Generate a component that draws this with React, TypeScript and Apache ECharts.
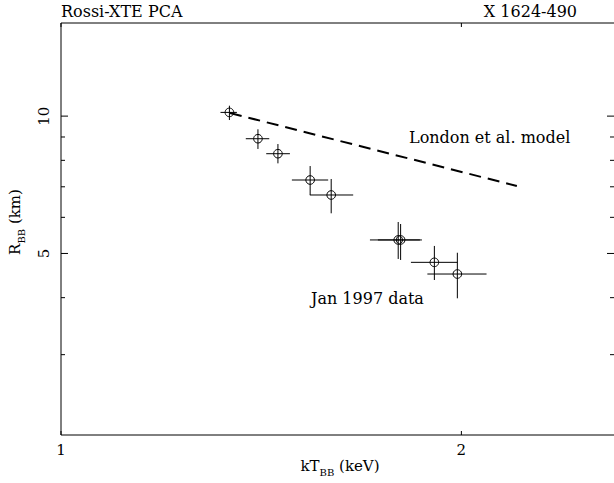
import React, { useEffect, useRef } from "react";
import * as echarts from "echarts";

// Axis ticks
const xTickValues = [1, 2];
const xTickLabels = ["1", "2"];
const yMajorTicks = [5, 10];
const yMinorTicks = [3, 4, 6, 7, 8, 9];
const yTickLabels = ["5", "10"];

// Jan 1997 data (kT_BB in keV, R_BB in km)
const kT = [1.3385, 1.4063, 1.4558, 1.5393, 1.5964, 1.7928, 1.8003, 1.9086, 1.9861];
const kTLow = [1.318, 1.377, 1.4266, 1.4914, 1.5385, 1.7072, 1.7309, 1.8327, 1.8856];
const kTHigh = [1.356, 1.4341, 1.4863, 1.5881, 1.6584, 1.8614, 1.8679, 1.9861, 2.0891];
const radius = [10.19, 8.922, 8.272, 7.244, 6.716, 5.353, 5.353, 4.781, 4.507];
const radiusLow = [9.805, 8.472, 7.879, 6.716, 6.123, 4.863, 4.838, 4.373, 3.987];
const radiusHigh = [10.54, 9.356, 8.686, 7.773, 7.281, 5.86, 5.801, 5.193, 5.018];

// London et al. model
const modelKT = [1.3398, 2.2016];
const modelR = [10.16, 7.028];

const FONT = "DejaVu Serif";
const FS = 16;

export default function App() {
  const ref = useRef<HTMLDivElement>(null);
  useEffect(() => {
    if (!ref.current) return;
    const chart = echarts.init(ref.current, undefined, { renderer: "svg" });
    const black = "#000";
    const pointData = kT.map((v, i) => [v, radius[i], kTLow[i], kTHigh[i], radiusLow[i], radiusHigh[i]]);
    const richSub = {
      m: { fontFamily: FONT, fontSize: 15, lineHeight: 17, verticalAlign: "top", fill: black },
      s: { fontFamily: FONT, fontSize: 10, lineHeight: 10, verticalAlign: "top", padding: [9, 0, 0, 0], fill: black },
    };

    const option: any = {
      animation: false,
      backgroundColor: "#fff",
      grid: {
        left: 61,
        top: 23,
        width: 553,
        height: 412,
        show: false,
      },
      xAxis: {
        type: "log",
        logBase: 10,
        min: 1,
        max: 2.6048,
        show: false,
        splitLine: { show: false },
      },
      yAxis: {
        type: "log",
        logBase: 10,
        min: 2,
        max: 16,
        show: false,
        splitLine: { show: false },
      },
      graphic: [
        {
          type: "rect",
          z: 100,
          shape: { x: 611, y: 24, width: 10, height: 410 },
          style: { fill: "#fff", stroke: "none" },
        },
        {
          type: "text",
          x: 61,
          y: 11,
          style: { text: "Rossi-XTE PCA", font: `${FS}px "${FONT}"`, fill: black, verticalAlign: "middle" },
        },
        {
          type: "text",
          x: 577,
          y: 11,
          style: { text: "X 1624-490", font: `${FS}px "${FONT}"`, fill: black, align: "right", verticalAlign: "middle" },
        },
        {
          type: "text",
          x: 409,
          y: 137,
          style: { text: "London et al. model", font: `${FS}px "${FONT}"`, fill: black, verticalAlign: "middle" },
        },
        {
          type: "text",
          x: 311,
          y: 298,
          style: { text: "Jan 1997 data", font: `${FS}px "${FONT}"`, fill: black, verticalAlign: "middle" },
        },
        {
          type: "text",
          x: 340,
          y: 467,
          style: {
            text: "{m|kT}{s|BB}{m| (keV)}",
            align: "center",
            verticalAlign: "middle",
            fill: black,
            rich: richSub,
          },
        },
        {
          type: "text",
          x: 16,
          y: 222,
          rotation: Math.PI / 2,
          style: {
            text: "{m|R}{s|BB}{m| (km)}",
            align: "center",
            verticalAlign: "middle",
            fill: black,
            rich: richSub,
          },
        },
      ],
      series: [
        {
          type: "line",
          data: modelKT.map((v, i) => [v, modelR[i]]),
          symbol: "none",
          clip: false,
          lineStyle: { color: black, width: 2, type: [12, 7] },
          silent: true,
        },
        {
          type: "custom",
          data: pointData,
          encode: { x: 0, y: 1 },
          clip: false,
          renderItem: (params: any, api: any) => {
            const x = api.value(0), y = api.value(1);
            const c = api.coord([x, y]);
            const xl = api.coord([api.value(2), y]);
            const xh = api.coord([api.value(3), y]);
            const yl = api.coord([x, api.value(4)]);
            const yh = api.coord([x, api.value(5)]);
            const st = { stroke: black, lineWidth: 1, fill: "none" };
            return {
              type: "group",
              children: [
                { type: "line", shape: { x1: xl[0], y1: c[1], x2: xh[0], y2: c[1] }, style: st },
                { type: "line", shape: { x1: c[0], y1: yh[1], x2: c[0], y2: yl[1] }, style: st },
                { type: "circle", shape: { cx: c[0], cy: c[1], r: 4.3 }, style: st },
              ],
            };
          },
        },
        {
          type: "custom",
          data: [[1.5, 5]],
          encode: { x: 0, y: 1 },
          clip: false,
          z: 200,
          renderItem: (params: any, api: any) => {
            const cs = params.coordSys;
            const left = cs.x, right = 614, top = cs.y, bottom = cs.y + cs.height;
            const st = { stroke: black, lineWidth: 1 };
            const children: any[] = [
              { type: "line", shape: { x1: left, y1: top, x2: right, y2: top }, style: st },
              { type: "line", shape: { x1: left, y1: bottom, x2: right, y2: bottom }, style: st },
              { type: "line", shape: { x1: left, y1: top, x2: left, y2: bottom }, style: st },
            ];
            xTickValues.forEach((v, i) => {
              const px = api.coord([v, 5])[0];
              children.push({ type: "line", shape: { x1: px, y1: bottom, x2: px, y2: bottom - 4 }, style: st });
              children.push({ type: "line", shape: { x1: px, y1: top, x2: px, y2: top + 4 }, style: st });
              children.push({
                type: "text",
                x: px,
                y: bottom + 15,
                style: { text: xTickLabels[i], font: `15px "${FONT}"`, fill: black, align: "center", verticalAlign: "middle" },
              });
            });
            yMajorTicks.forEach((v, i) => {
              const py = api.coord([1.5, v])[1];
              children.push({ type: "line", shape: { x1: left, y1: py, x2: left + 7, y2: py }, style: st });
              children.push({ type: "line", shape: { x1: right, y1: py, x2: right - 7, y2: py }, style: st });
              children.push({
                type: "text",
                x: left - 17,
                y: py,
                rotation: Math.PI / 2,
                style: { text: yTickLabels[i], font: `15px "${FONT}"`, fill: black, align: "center", verticalAlign: "middle" },
              });
            });
            yMinorTicks.forEach((v) => {
              const py = api.coord([1.5, v])[1];
              children.push({ type: "line", shape: { x1: left, y1: py, x2: left + 4, y2: py }, style: st });
              children.push({ type: "line", shape: { x1: right, y1: py, x2: right - 4, y2: py }, style: st });
            });
            return { type: "group", children };
          },
        },
      ],
    };
    chart.setOption(option);
    return () => chart.dispose();
  }, []);
  return <div ref={ref} style={{ position: "fixed", left: 0, top: 0, width: 614, height: 483, background: "#fff" }} />;
}
